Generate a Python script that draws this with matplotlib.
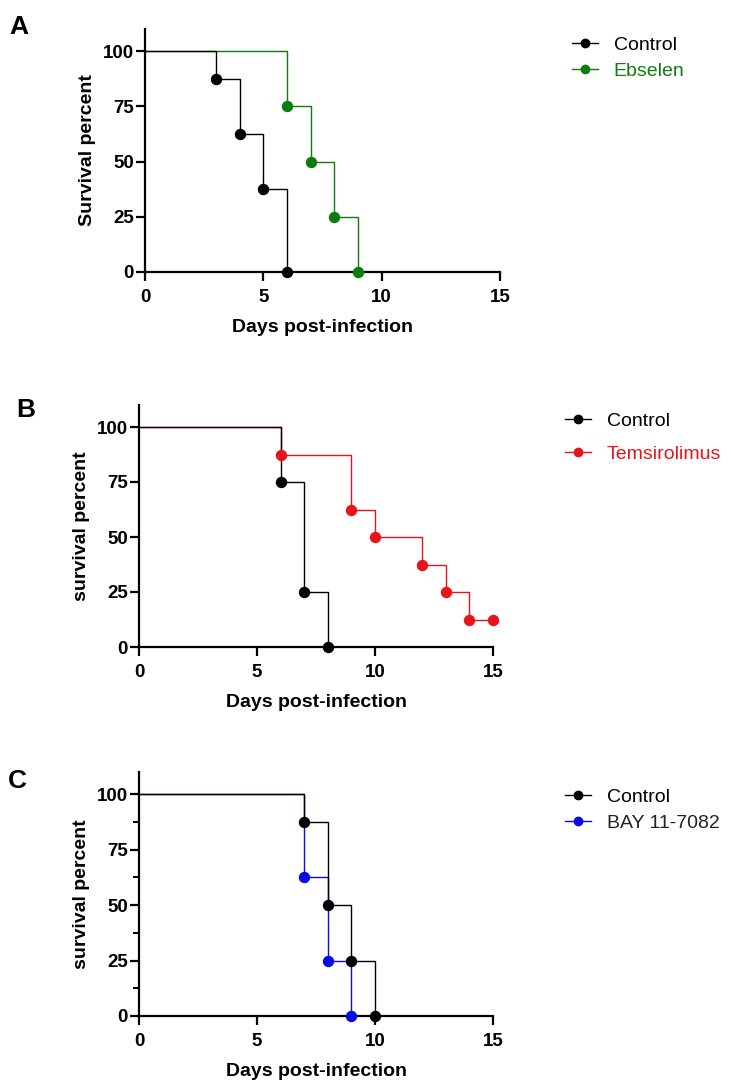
import matplotlib
matplotlib.use("Agg")
import matplotlib.pyplot as plt
from matplotlib.ticker import MultipleLocator

plt.rcParams['font.family'] = ['Liberation Sans', 'DejaVu Sans']

# panel A
a_ctrl_days = [0, 3, 4, 5, 6]
a_ctrl_surv = [100, 87.5, 62.5, 37.5, 0]
a_ebs_days = [0, 6, 7, 8, 9]
a_ebs_surv = [100, 75, 50, 25, 0]

# panel B
b_ctrl_days = [0, 6, 7, 8]
b_ctrl_surv = [100, 75, 25, 0]
b_tem_days = [0, 6, 9, 10, 12, 13, 14, 15]
b_tem_surv = [100, 87.5, 62.5, 50, 37.5, 25, 12.5, 12.5]

# panel C
c_ctrl_days = [0, 7, 8, 9, 10]
c_ctrl_surv = [100, 87.5, 50, 25, 0]
c_bay_days = [0, 7, 8, 9]
c_bay_surv = [100, 62.5, 25, 0]

GREEN = '#0e7d0e'
RED = '#e8141c'
BLUE = '#0a0ae6'

fig = plt.figure(figsize=(7.31, 10.89), dpi=100)


def km(ax, days, surv, color, label):
    ax.step(days, surv, where='post', color=color, lw=1.0, clip_on=False)
    ax.plot(days[1:], surv[1:], 'o', color=color, ms=7.2, clip_on=False, zorder=4)
    # legend handle only
    ax.plot([], [], '-o', color=color, lw=1.0, ms=6, label=label)


def style(ax, ylabel, minor=False):
    ax.set_xlim(0, 15)
    ax.set_ylim(0, 110)
    for s in ['top', 'right']:
        ax.spines[s].set_visible(False)
    ax.spines['left'].set_linewidth(1.6)
    ax.spines['bottom'].set_linewidth(1.6)
    ax.spines['bottom'].set_bounds(0, 15)
    ax.set_xticks([0, 5, 10, 15])
    ax.set_yticks([0, 25, 50, 75, 100])
    if minor:
        ax.yaxis.set_minor_locator(MultipleLocator(12.5))
        ax.tick_params(axis='y', which='minor', length=4.5, width=1.4)
    ax.tick_params(which='major', length=6.5, width=1.6, labelsize=13.5)
    ax.tick_params(axis='x', pad=6)
    ax.tick_params(axis='y', pad=1.5)
    for t in ax.get_xticklabels() + ax.get_yticklabels():
        t.set_fontweight('bold')
    ax.set_xlabel('Days post-infection', fontsize=14, fontweight='bold', labelpad=9)
    ax.set_ylabel(ylabel, fontsize=14, fontweight='bold', labelpad=5)


def legend(ax, colors, left, top, spacing):
    h, l = ax.get_legend_handles_labels()
    leg = ax.legend(h[::-1], l[::-1], loc='upper left',
                    bbox_to_anchor=(left / 731, 1 - top / 1089),
                    bbox_transform=fig.transFigure, frameon=False, fontsize=14,
                    handlelength=1.35, handletextpad=0.8, borderpad=0,
                    borderaxespad=0, labelspacing=spacing)
    for t, c in zip(leg.get_texts(), colors):
        t.set_color(c)


axA = fig.add_axes([145 / 731, 1 - 272 / 1089, 355 / 731, 243 / 1089])
km(axA, a_ebs_days, a_ebs_surv, GREEN, 'Ebselen')
km(axA, a_ctrl_days, a_ctrl_surv, 'black', 'Control')
style(axA, 'Survival percent')
legend(axA, ['black', GREEN], 572, 36, 0.45)

axB = fig.add_axes([139 / 731, 1 - 647 / 1089, 354 / 731, 242 / 1089])
km(axB, b_tem_days, b_tem_surv, RED, 'Temsirolimus')
km(axB, b_ctrl_days, b_ctrl_surv, 'black', 'Control')
style(axB, 'survival percent')
legend(axB, ['black', RED], 565, 412, 0.8)

axC = fig.add_axes([139 / 731, 1 - 1016 / 1089, 354 / 731, 244 / 1089])
km(axC, c_bay_days, c_bay_surv, BLUE, 'BAY 11-7082')
km(axC, c_ctrl_days, c_ctrl_surv, 'black', 'Control')
style(axC, 'survival percent', minor=True)
legend(axC, ['black', '#222222'], 565, 788, 0.45)

fig.text(9 / 731, 1 - 34 / 1089, 'A', fontsize=19, fontweight='bold')
fig.text(16 / 731, 1 - 417 / 1089, 'B', fontsize=19, fontweight='bold')
fig.text(8 / 731, 1 - 788 / 1089, 'C', fontsize=19, fontweight='bold')

fig.savefig('out.png', dpi=100)
